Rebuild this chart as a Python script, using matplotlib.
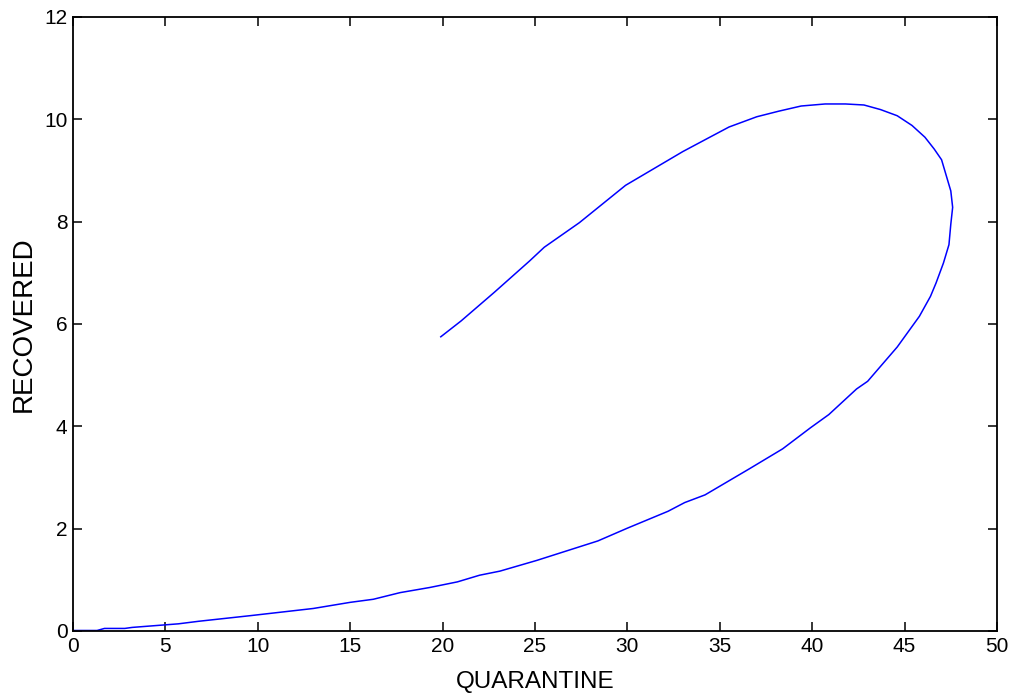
import matplotlib
matplotlib.use("Agg")
import matplotlib.pyplot as plt

# curve, in drawing order (origin -> loop -> end)
quarantine = [0.0, 1.3, 1.7, 2.8, 3.2, 5.7, 6.8, 9.6, 13.0, 15.0, 16.25, 17.7,
              19.3, 20.8, 22.0, 23.1, 25.1, 28.4, 30.0, 32.2, 33.1, 34.2,
              36.6, 38.4, 39.9, 40.9, 42.4, 43.0, 44.6, 45.8, 46.4, 46.7, 47.1,
              47.4, 47.5, 47.6, 47.5, 47.0, 46.6, 46.1, 45.4, 44.6, 43.7, 42.8,
              41.8, 40.7, 39.4, 38.2, 37.0, 35.5, 34.3, 33.0, 29.9, 27.4, 25.5,
              24.7, 22.8, 21.0, 19.9]
recovered = [0.01, 0.01, 0.05, 0.05, 0.07, 0.14, 0.19, 0.30, 0.44, 0.56, 0.62, 0.75,
             0.85, 0.96, 1.09, 1.17, 1.38, 1.76, 2.01, 2.34, 2.51, 2.66,
             3.17, 3.56, 3.97, 4.23, 4.73, 4.88, 5.55, 6.15, 6.54, 6.80, 7.19,
             7.55, 7.95, 8.28, 8.60, 9.21, 9.42, 9.65, 9.88, 10.07, 10.19, 10.28,
             10.30, 10.30, 10.26, 10.16, 10.05, 9.85, 9.62, 9.37, 8.71, 7.98, 7.50,
             7.23, 6.62, 6.06, 5.75]

x_ticks = [0, 5, 10, 15, 20, 25, 30, 35, 40, 45, 50]
y_ticks = [0, 2, 4, 6, 8, 10, 12]

plt.rcParams["font.family"] = ["Liberation Sans", "DejaVu Sans"]

fig = plt.figure(figsize=(10.16, 6.96), dpi=100)
ax = fig.add_axes([0.0719, 0.0934, 0.9094, 0.8822])

ax.plot(quarantine, recovered, color="#0000ff", linewidth=1.1)

ax.set_xlim(0, 50)
ax.set_ylim(0, 12)
ax.set_xticks(x_ticks)
ax.set_yticks(y_ticks)

for side in ax.spines.values():
    side.set_linewidth(1.3)
    side.set_color("black")

ax.tick_params(direction="in", length=6.5, width=1.1, labelsize=15,
               top=True, right=True, pad=4)

ax.set_xlabel("QUARANTINE", fontsize=17.5, labelpad=11)
ax.set_ylabel("RECOVERED", fontsize=20, labelpad=5)

fig.savefig("out.png", dpi=100)
